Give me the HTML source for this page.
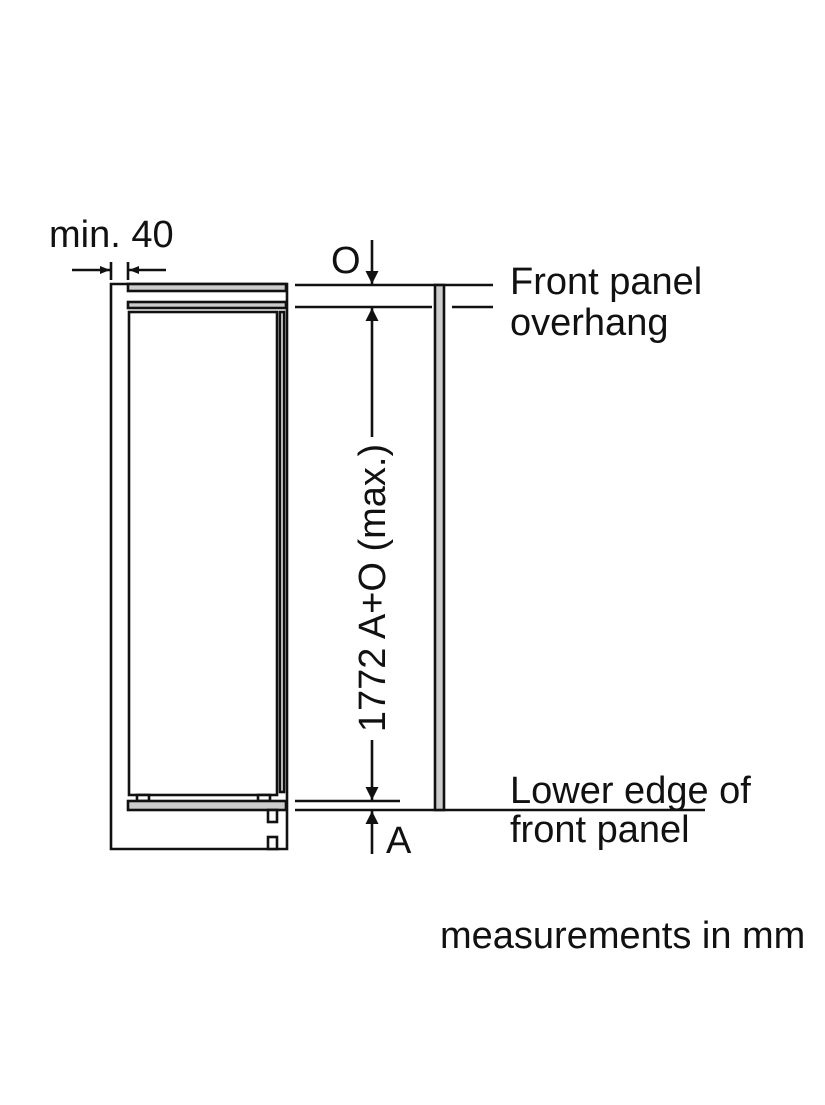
<!DOCTYPE html>
<html><head><style>
body{margin:0;background:#fff;width:825px;height:1100px;overflow:hidden}
text{font-family:"Liberation Sans",Arial,sans-serif;fill:#111}
</style></head><body>
<svg width="825" height="1100" viewBox="0 0 825 1100" xmlns="http://www.w3.org/2000/svg">
<defs>
<marker id="ah" viewBox="0 0 10 10" refX="10" refY="5" markerWidth="14" markerHeight="10" markerUnits="userSpaceOnUse" orient="auto">
<path d="M0,1 L10,5 L0,9 Z" fill="#111"/></marker>
<marker id="ah2" viewBox="0 0 10 10" refX="10" refY="5" markerWidth="16" markerHeight="13" markerUnits="userSpaceOnUse" orient="auto">
<path d="M0,0 L10,5 L0,10 Z" fill="#111"/></marker>
</defs>
<g stroke="#111" stroke-width="2.6" fill="none">
<path d="M111,849 V284 H287 V849 Z"/>
<rect x="128" y="284" width="158" height="7" fill="#ccc"/>
<rect x="128" y="302" width="158" height="6" fill="#ccc"/>
<rect x="129" y="312" width="148" height="483" fill="#fff"/>
<rect x="280" y="312" width="4" height="480" fill="#fff"/>
<rect x="137" y="795" width="12" height="6" fill="#fff"/>
<rect x="258" y="795" width="12" height="6" fill="#fff"/>
<rect x="128" y="801" width="158" height="9" fill="#ccc"/>
<rect x="268" y="810" width="9" height="12" fill="#fff"/>
<rect x="268" y="837" width="9" height="12" fill="#fff"/>
<line x1="111" y1="262" x2="111" y2="280"/>
<line x1="128" y1="262" x2="128" y2="280"/>
<line x1="72" y1="270" x2="110" y2="270" marker-end="url(#ah)"/>
<line x1="166" y1="270" x2="129" y2="270" marker-end="url(#ah)"/>
<line x1="295" y1="285" x2="493" y2="285"/>
<line x1="295" y1="307" x2="432" y2="307"/>
<line x1="452" y1="307" x2="493" y2="307"/>
<line x1="295" y1="801" x2="400" y2="801"/>
<line x1="295" y1="810" x2="705" y2="810"/>
<rect x="435" y="285" width="9" height="525" fill="#ccc"/>
<line x1="372" y1="240" x2="372" y2="284" marker-end="url(#ah2)"/>
<line x1="372" y1="437" x2="372" y2="308" marker-end="url(#ah2)"/>
<line x1="372" y1="740" x2="372" y2="800" marker-end="url(#ah2)"/>
<line x1="372" y1="854" x2="372" y2="811" marker-end="url(#ah2)"/>
</g>
<g font-size="38">
<text x="49" y="247">min. 40</text>
<text x="331" y="273">O</text>
<text x="510" y="294">Front panel</text>
<text x="510" y="335">overhang</text>
<text x="510" y="803">Lower edge of</text>
<text x="510" y="842">front panel</text>
<text x="386" y="853">A</text>
<text x="440" y="948">measurements in mm</text>
<text x="0" y="0" text-anchor="middle" transform="translate(385,588) rotate(-90)">1772 A+O (max.)</text>
</g>
</svg>
</body></html>
